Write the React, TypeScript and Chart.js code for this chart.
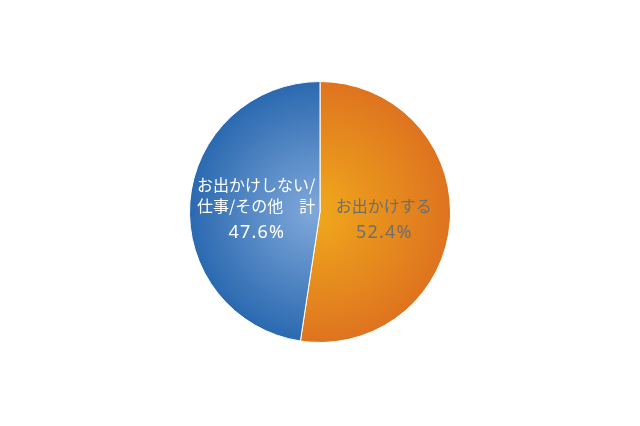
import React, { useEffect, useRef } from "react";
import { Chart, registerables } from "chart.js";

Chart.register(...registerables);

const labels = ["お出かけする", "お出かけしない/仕事/その他　計"];
const values = [52.4, 47.6];
const nameLines = [["お出かけする"], ["お出かけしない/", "仕事/その他　計"]];
const percentLabels = ["52.4%", "47.6%"];
const innerColors = ["#f0aa1c", "#80a8da"];
const outerColors = ["#de731f", "#2a69b0"];
const textColors = ["#6e6e6e", "#ffffff"];

const JP_FONT = '"Noto Sans CJK JP", "Noto Sans", sans-serif';
const NUM_FONT = '"Noto Sans", sans-serif';

const sliceLabels = {
  id: "sliceLabels",
  afterDatasetsDraw(chart: Chart) {
    const ctx: any = chart.ctx;
    const meta = chart.getDatasetMeta(0);
    ctx.save();
    ctx.textAlign = "center";
    ctx.textBaseline = "middle";
    meta.data.forEach((arc: any, i: number) => {
      const { x, y, startAngle, endAngle, outerRadius } = arc.getProps(
        ["x", "y", "startAngle", "endAngle", "outerRadius"],
        true
      );
      const mid = (startAngle + endAngle) / 2;
      const cx = x + Math.cos(mid) * outerRadius * 0.49;
      ctx.fillStyle = textColors[i];
      ctx.font = `16px ${JP_FONT}`;
      ctx.letterSpacing = "0px";
      const lines = nameLines[i];
      lines.forEach((line, k) => {
        const offset = -6.5 - (lines.length - 1 - k) * 20.5;
        ctx.fillText(line, cx, y + offset);
      });
      ctx.font = `18px ${NUM_FONT}`;
      ctx.letterSpacing = "1.2px";
      ctx.fillText(percentLabels[i], cx + 0.6, y + 20.5);
    });
    ctx.restore();
  },
};

function makeGradient(context: any) {
  const chart = context.chart;
  const area = chart.chartArea;
  if (!area) return innerColors[context.dataIndex];
  const cx = (area.left + area.right) / 2;
  const cy = (area.top + area.bottom) / 2;
  const r = Math.min(area.right - area.left, area.bottom - area.top) / 2;
  const g = chart.ctx.createRadialGradient(cx - 8, cy, 0, cx, cy, r);
  g.addColorStop(0, innerColors[context.dataIndex]);
  g.addColorStop(1, outerColors[context.dataIndex]);
  return g;
}

export default function App() {
  const canvasRef = useRef<HTMLCanvasElement>(null);

  useEffect(() => {
    const ctx = canvasRef.current?.getContext("2d");
    if (!ctx) return;
    const chart = new Chart(ctx, {
      type: "pie",
      data: {
        labels,
        datasets: [
          {
            data: values,
            backgroundColor: makeGradient,
            borderColor: "#ffffff",
            borderWidth: 1,
          },
        ],
      },
      options: {
        responsive: true,
        maintainAspectRatio: false,
        animation: false,
        layout: { padding: { top: 81, bottom: 83, left: 0, right: 0 } },
        plugins: {
          legend: { display: false },
          tooltip: { enabled: false },
        },
      },
      plugins: [sliceLabels],
    });
    return () => {
      chart.destroy();
    };
  }, []);

  return (
    <div
      style={{
        position: "absolute",
        left: 0,
        top: 0,
        width: 640,
        height: 426,
        background: "#ffffff",
      }}
    >
      <canvas ref={canvasRef} />
    </div>
  );
}
